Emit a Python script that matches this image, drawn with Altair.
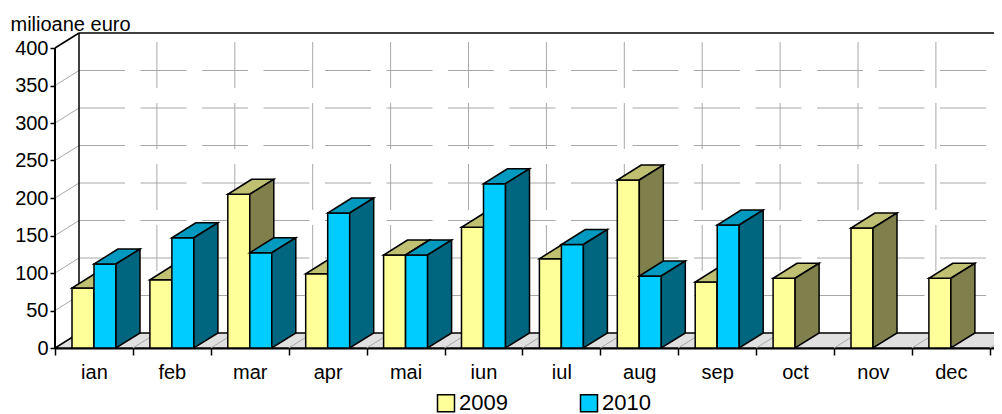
import json
import altair as alt
import pandas as pd

# ---------------- data ----------------
months = ["ian", "feb", "mar", "apr", "mai", "iun", "iul", "aug", "sep", "oct", "nov", "dec"]
series = ["2009", "2010"]
v2009 = [80, 91, 205, 99, 124, 161, 119, 224, 88, 93, 160, 93]
v2010 = [112, 147, 127, 180, 124, 219, 138, 96, 164, None, None, None]
y_ticks = [0, 50, 100, 150, 200, 250, 300, 350, 400]
y_title = "milioane euro"

# ---------------- styles / geometry ----------------
FONT = "Liberation Sans"
FRONT = {"2009": "#FFFF99", "2010": "#00CCFF"}
TOP = {"2009": "#C0C073", "2010": "#0099BF"}
SIDE = {"2009": "#80804C", "2010": "#006680"}
GRID = "#a8a8a8"

CAT_PX = 77.9
PLOT_W = 939
PLOT_H = 330
Y_MAX = 440
X_MAX = PLOT_W / CAT_PX
PX_PER_UNIT = PLOT_H / Y_MAX
DX = 24 / CAT_PX
DY = 15 / PX_PER_UNIT
GAP = 17 / CAT_PX
BW = 22 / CAT_PX
X_END = X_MAX + 1.5

xscale = alt.Scale(domain=[0, X_MAX], nice=False, zero=False)
yscale = alt.Scale(domain=[0, Y_MAX], nice=False, zero=False)

labels_js = json.dumps(months)
x_axis = alt.Axis(
    values=list(range(len(months) + 1)),
    labelExpr=f"datum.value < {len(months)} ? {labels_js}[datum.value] : ''",
    labelOffset=CAT_PX / 2,
    labelFlush=False,
    labelOverlap=False,
    labelBaseline="alphabetic",
    labelPadding=23,
    labelFontSize=20,
    labelFont=FONT,
    labelColor="black",
    tickSize=7,
    tickWidth=1.5,
    tickColor="black",
    domainColor="black",
    domainWidth=2,
    grid=False,
    title=None,
)
y_axis = alt.Axis(
    values=y_ticks,
    domain=False,
    grid=False,
    tickSize=5,
    tickWidth=1.5,
    tickColor="black",
    labelFontSize=20,
    labelFont=FONT,
    labelColor="black",
    labelPadding=2,
    title=y_title,
    titleAngle=0,
    titleAlign="left",
    titleBaseline="alphabetic",
    titleX=-45,
    titleY=12,
    titleFontSize=20,
    titleFont=FONT,
    titleFontWeight="normal",
    titleColor="black",
)


def X(f):
    return alt.X(f, type="quantitative", scale=xscale, axis=x_axis)


def Y(f):
    return alt.Y(f, type="quantitative", scale=yscale, axis=y_axis)


# ---------------- tables built from the arrays ----------------
front_rows, top_rows, side_rows = [], [], []
for s_idx, (s, vals) in enumerate(zip(series, [v2009, v2010])):
    for i, v in enumerate(vals):
        if v is None:
            continue
        bid = f"{s}-{i}"
        x0 = i + GAP + s_idx * BW
        x1 = x0 + BW
        front_rows.append(dict(series=s, month=months[i], value=v, base=0, x0=x0, x1=x1))
        top_rows.append(dict(series=s, bid=bid, y=v, xa=x0, xb=x1))
        top_rows.append(dict(series=s, bid=bid, y=v + DY, xa=x0 + DX, xb=x1 + DX))
        side_rows.append(dict(series=s, bid=bid, x=x1, ylo=0, yhi=v))
        side_rows.append(dict(series=s, bid=bid, x=x1 + DX, ylo=DY, yhi=v + DY))
front_df = pd.DataFrame(front_rows)
top_df = pd.DataFrame(top_rows)
side_df = pd.DataFrame(side_rows)

# ---------------- frame (walls, floor, grid) ----------------
left_diag = pd.DataFrame({"y": [t for t in y_ticks if 0 < t < 400]})
left_diag["y2"] = left_diag["y"] + DY
left_diag["x"] = 0.0
left_diag["x2"] = DX

back_h = pd.DataFrame({"y": [t + DY for t in y_ticks if 0 < t < 400]})
back_h["x"] = DX
back_h["x2"] = X_END

back_v = pd.DataFrame({"x": [i + DX for i in range(1, len(months) + 1)]})
back_v["y"] = 400 + DY
back_v["y2"] = DY

frame_k = pd.DataFrame(
    {
        "x": [DX, DX, 0.0],
        "x2": [X_END, DX, DX],
        "y": [400 + DY, DY, 400],
        "y2": [400 + DY, 400 + DY, 400 + DY],
    }
)

floor_df = pd.DataFrame({"y": [0, DY], "xa": [0, DX], "xb": [X_END, X_END + DX]})
floor_diag = pd.DataFrame({"x": list(range(1, len(months) + 1))})
floor_diag["x2"] = floor_diag["x"] + DX
floor_diag["y"] = 0
floor_diag["y2"] = DY

axis_df = pd.DataFrame({"x": [0], "y": [0], "y2": [400]})

axis_layer = (
    alt.Chart(axis_df)
    .mark_rule(color="black", strokeWidth=2)
    .encode(x=X("x"), y=Y("y"), y2="y2")
)
grid_left = (
    alt.Chart(left_diag)
    .mark_rule(color=GRID, strokeWidth=1)
    .encode(x=X("x"), x2="x2", y=Y("y"), y2="y2")
)
grid_h = (
    alt.Chart(back_h)
    .mark_rule(color=GRID, strokeWidth=1, strokeDash=[46, 15.5])
    .encode(x=X("x"), x2="x2", y=Y("y"))
)
grid_v = (
    alt.Chart(back_v)
    .mark_rule(color=GRID, strokeWidth=1, strokeDash=[46, 15], strokeDashOffset=52)
    .encode(x=X("x"), y=Y("y"), y2="y2")
)
frame_lines = (
    alt.Chart(frame_k)
    .mark_rule(color="black", strokeWidth=1.5)
    .encode(x=X("x"), x2="x2", y=Y("y"), y2="y2")
)
floor = (
    alt.Chart(floor_df)
    .mark_area(orient="horizontal", fill="#e0e0e0", stroke="black", strokeWidth=1.5, opacity=1)
    .encode(y=Y("y"), x=X("xa"), x2="xb")
)
floor_lines = (
    alt.Chart(floor_diag)
    .mark_rule(color=GRID, strokeWidth=1)
    .encode(x=X("x"), x2="x2", y=Y("y"), y2="y2")
)

color_scale = alt.Scale(domain=series, range=[FRONT[s] for s in series])
legend = alt.Legend(
    orient="none",
    legendX=380,
    legendY=374,
    direction="horizontal",
    title=None,
    symbolType="square",
    symbolSize=289,
    symbolStrokeColor="black",
    symbolStrokeWidth=1.5,
    symbolOpacity=1,
    labelFontSize=22,
    labelFont=FONT,
    labelColor="black",
    labelOffset=2,
    columnPadding=69,
)

bar_layers = []
for s in series:
    fr = (
        alt.Chart(front_df[front_df.series == s])
        .mark_rect(stroke="black", strokeWidth=1.5, opacity=1)
        .encode(
            x=X("x0"), x2="x1", y=Y("value"), y2="base",
            color=alt.Color("series:N", scale=color_scale, legend=legend),
        )
    )
    tp = (
        alt.Chart(top_df[top_df.series == s])
        .mark_area(orient="horizontal", fill=TOP[s], stroke="black", strokeWidth=1.5, opacity=1)
        .encode(y=Y("y"), x=X("xa"), x2="xb", detail="bid:N")
    )
    sd = (
        alt.Chart(side_df[side_df.series == s])
        .mark_area(orient="vertical", fill=SIDE[s], stroke="black", strokeWidth=1.5, opacity=1)
        .encode(x=X("x"), y=Y("yhi"), y2="ylo", detail="bid:N")
    )
    bar_layers += [fr, tp, sd]

chart = (
    alt.layer(grid_left, grid_h, grid_v, frame_lines, floor, floor_lines, axis_layer, *bar_layers)
    .properties(
        width=PLOT_W,
        height=PLOT_H,
        padding={"left": 47, "top": 10, "right": 0, "bottom": 66},
        autosize=alt.AutoSizeParams(type="none"),
        background="white",
    )
    .configure_view(stroke=None)
)

chart.save("out.html", embed_options={"renderer": "svg", "actions": False})
